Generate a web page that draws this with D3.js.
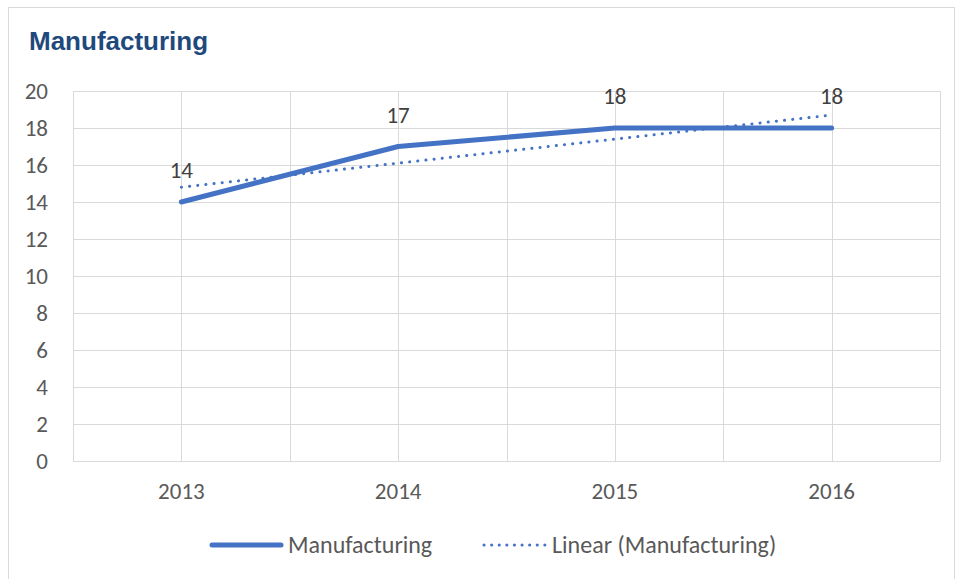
<!DOCTYPE html>
<html lang="en">
<head>
  <meta charset="UTF-8">
  <title>Manufacturing</title>
  <script src="https://d3js.org/d3.v7.min.js"></script>
  <style>
    body { margin: 0; background: #fff; }
    text { font-family: Carlito, Calibri, Lato, "Open Sans", sans-serif; fill: #595959; }
    .grid line { stroke: #d9d9d9; stroke-width: 1; }
  </style>
</head>
<body>
  <script>
    const years = ["2013", "2014", "2015", "2016"];
    const values = [14, 17, 18, 18];
    const yTicks = [0, 2, 4, 6, 8, 10, 12, 14, 16, 18, 20];
    const seriesName = "Manufacturing";
    const trendName = "Linear (Manufacturing)";

    const width = 957, height = 579;
    const blue = "#4472c4";

    const svg = d3.select("body").append("svg")
      .attr("width", width)
      .attr("height", height);

    // chart border
    svg.append("rect")
      .attr("x", 8.5).attr("y", 7.5)
      .attr("width", 946).attr("height", 580)
      .attr("fill", "#fff")
      .attr("stroke", "#d9d9d9");

    svg.append("text")
      .attr("x", 29).attr("y", 50)
      .style("font-family", "'Liberation Sans', Arial, sans-serif")
      .style("font-weight", "bold")
      .style("font-size", "26px")
      .style("fill", "#1f497d")
      .text("Manufacturing");

    const plotL = 73, plotR = 940, plotT = 91, plotB = 461;

    const x = d3.scaleBand().domain(years).range([plotL, plotR]);
    const y = d3.scaleLinear().domain([0, 20]).range([plotB, plotT]);
    const cx = d => x(d) + x.bandwidth() / 2;

    // gridlines
    const grid = svg.append("g").attr("class", "grid");
    grid.selectAll(".h").data(yTicks).enter().append("line")
      .attr("x1", plotL).attr("x2", plotR)
      .attr("y1", d => Math.round(y(d)) + 0.5).attr("y2", d => Math.round(y(d)) + 0.5);
    const vx = [];
    years.forEach(yr => { vx.push(x(yr)); vx.push(cx(yr)); });
    vx.push(plotR);
    grid.selectAll(".v").data(vx).enter().append("line")
      .attr("x1", d => Math.round(d) + 0.5).attr("x2", d => Math.round(d) + 0.5)
      .attr("y1", plotT).attr("y2", plotB);

    // axes
    const yAxis = svg.append("g")
      .attr("transform", `translate(${plotL},0)`)
      .call(d3.axisLeft(y).tickValues(yTicks).tickSize(0).tickPadding(25));
    yAxis.attr("font-size", null).attr("font-family", null);
    yAxis.select(".domain").remove();
    yAxis.selectAll("text").style("font-size", "23px").style("fill", "#595959");

    const xAxis = svg.append("g")
      .attr("transform", `translate(0,${plotB})`)
      .call(d3.axisBottom(x).tickSize(0).tickPadding(22));
    xAxis.attr("font-size", null).attr("font-family", null);
    xAxis.select(".domain").attr("stroke", "#d9d9d9");
    xAxis.selectAll("text").style("font-size", "23px").style("fill", "#595959");

    // linear trend
    const xs = values.map((_, i) => i + 1);
    const mx = d3.mean(xs), my = d3.mean(values);
    const slope = d3.sum(xs, (xi, i) => (xi - mx) * (values[i] - my)) / d3.sum(xs, xi => (xi - mx) ** 2);
    const icpt = my - slope * mx;
    const trend = years.map((yr, i) => ({ yr, v: icpt + slope * (i + 1) }));

    svg.append("path")
      .datum(trend)
      .attr("fill", "none")
      .attr("stroke", blue)
      .attr("stroke-width", 3)
      .attr("stroke-linecap", "round")
      .attr("stroke-dasharray", "0.1 8.1")
      .attr("d", d3.line().x(d => cx(d.yr)).y(d => y(d.v)));

    // series line
    const data = years.map((yr, i) => ({ yr, v: values[i] }));
    svg.append("path")
      .datum(data)
      .attr("fill", "none")
      .attr("stroke", blue)
      .attr("stroke-width", 5)
      .attr("stroke-linecap", "round")
      .attr("stroke-linejoin", "round")
      .attr("d", d3.line().x(d => cx(d.yr)).y(d => y(d.v)));

    // data labels
    svg.selectAll(".lbl").data(data).enter().append("text")
      .attr("x", d => cx(d.yr))
      .attr("y", d => y(d.v) - 24)
      .attr("text-anchor", "middle")
      .style("font-size", "23px")
      .style("fill", "#404040")
      .text(d => d.v);

    // legend
    const ly = 545;
    svg.append("line")
      .attr("x1", 212).attr("x2", 281).attr("y1", ly).attr("y2", ly)
      .attr("stroke", blue).attr("stroke-width", 5).attr("stroke-linecap", "round");
    svg.append("text").attr("x", 288).attr("y", ly + 8)
      .style("font-size", "24px").text(seriesName);
    svg.append("line")
      .attr("x1", 484).attr("x2", 545).attr("y1", ly).attr("y2", ly)
      .attr("stroke", blue).attr("stroke-width", 3).attr("stroke-linecap", "round")
      .attr("stroke-dasharray", "0.1 7.5");
    svg.append("text").attr("x", 552).attr("y", ly + 8)
      .style("font-size", "24px").text(trendName);
  </script>
</body>
</html>
